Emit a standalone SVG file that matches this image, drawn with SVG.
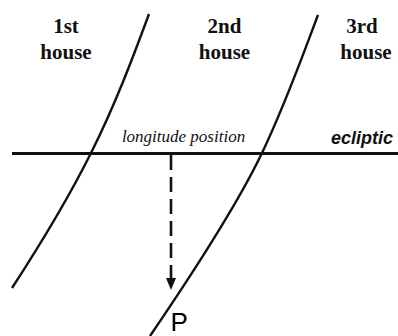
<svg xmlns="http://www.w3.org/2000/svg" width="398" height="336" viewBox="0 0 398 336">
<defs>
<style>
.house{font-family:"Liberation Serif","Times New Roman",Times,serif;font-weight:bold;font-size:21px;fill:#111;text-anchor:middle}
.cusp{fill:none;stroke:#111;stroke-width:2.4}
</style>
</defs>
<rect width="398" height="336" fill="#fff"/>
<g id="label-1st"><text class="house" x="66" y="33">1st</text><text class="house" x="66" y="58.5">house</text></g>
<g id="label-2nd"><text class="house" x="224.5" y="33">2nd</text><text class="house" x="224.5" y="58.5">house</text></g>
<g id="label-3rd"><text class="house" x="362" y="33">3rd</text><text class="house" x="366" y="58.5">house</text></g>
<g id="connectors">
<path id="cusp1" class="cusp" d="M149,14 C132,60 115,105 91,153 S40,245 12,288"/>
<path id="cusp2" class="cusp" d="M318,15 C301,60 285,105 262,153 S195,270 150,336"/>
<line id="ecliptic-line" x1="12" y1="153.5" x2="398" y2="153.5" stroke="#111" stroke-width="3"/>
<line id="projection" x1="171" y1="155" x2="171" y2="279" stroke="#111" stroke-width="2.6" stroke-dasharray="15 7"/>
<path d="M166,278 L176,278 L171,290 Z" fill="#111"/>
</g>
<g id="label-longitude"><text x="183.5" y="142" font-family="'Liberation Serif','Times New Roman',Times,serif" font-style="italic" font-size="17" text-anchor="middle" fill="#111">longitude position</text></g>
<g id="label-ecliptic"><text x="362" y="144" font-family="'Liberation Sans',Arial,sans-serif" font-style="italic" font-weight="bold" font-size="18" text-anchor="middle" fill="#111">ecliptic</text></g>
<g id="label-P"><text x="170.5" y="330.5" font-family="'Liberation Sans',Arial,sans-serif" font-size="26" fill="#000">P</text></g>
</svg>
